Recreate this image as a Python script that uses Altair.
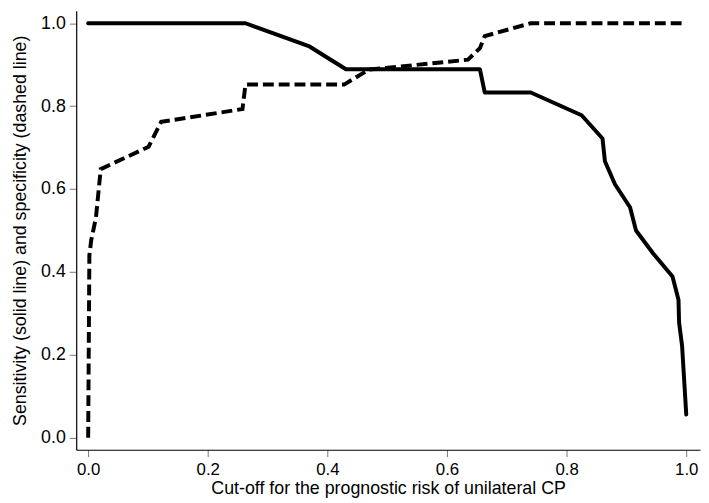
import altair as alt
import pandas as pd

# Sensitivity (solid line)
sens_x = [0.0, 0.263, 0.370, 0.431, 0.655, 0.663, 0.740, 0.825, 0.860, 0.864,
          0.881, 0.906, 0.916, 0.945, 0.977, 0.987, 0.988, 0.993, 1.0]
sens_y = [1.0, 1.0, 0.944, 0.889, 0.889, 0.833, 0.833, 0.778, 0.722, 0.667,
          0.611, 0.556, 0.5, 0.444, 0.389, 0.333, 0.278, 0.222, 0.056]

# Specificity (dashed line)
spec_x = [0.0, 0.002, 0.005, 0.013, 0.021, 0.101, 0.122, 0.258, 0.263, 0.428,
          0.469, 0.635, 0.655, 0.663, 0.740, 1.0]
spec_y = [0.0, 0.44, 0.476, 0.531, 0.648, 0.702, 0.762, 0.793, 0.852, 0.852,
          0.888, 0.912, 0.940, 0.969, 1.0, 1.0]

x_ticks = [0.0, 0.2, 0.4, 0.6, 0.8, 1.0]
y_ticks = [0.0, 0.2, 0.4, 0.6, 0.8, 1.0]

FONT = "Liberation Sans"
FS = 17

sens = pd.DataFrame({"x": sens_x, "y": sens_y, "i": range(len(sens_x))})
spec = pd.DataFrame({"x": spec_x, "y": spec_y, "i": range(len(spec_x))})

xs = alt.Scale(domain=[-0.02, 1.023], nice=False, zero=False)
ys = alt.Scale(domain=[-0.029, 1.03], nice=False, zero=False)

xaxis = alt.Axis(values=x_ticks, format=".1f", grid=False,
                 title="Cut-off for the prognostic risk of unilateral CP",
                 domainColor="#000000", tickColor="#777777", tickSize=7,
                 labelFontSize=FS, titleFontSize=FS + 1, labelFont=FONT, titleFont=FONT,
                 labelColor="#000000", titleColor="#000000", titleFontWeight="normal",
                 labelPadding=5, titlePadding=2)
yaxis = alt.Axis(values=y_ticks, format=".1f", grid=False,
                 title="Sensitivity (solid line) and specificity (dashed line)",
                 domainColor="#000000", tickColor="#777777", tickSize=7,
                 labelFontSize=FS + 1, titleFontSize=FS + 1, labelFont=FONT, titleFont=FONT,
                 labelColor="#000000", titleColor="#000000", titleFontWeight="normal",
                 labelPadding=4, titlePadding=11)

solid = alt.Chart(sens).mark_line(color="black", strokeWidth=4, strokeCap="round",
                                  strokeJoin="round").encode(
    x=alt.X("x:Q", scale=xs, axis=xaxis),
    y=alt.Y("y:Q", scale=ys, axis=yaxis),
    order="i:Q",
)
dashed = alt.Chart(spec).mark_line(color="black", strokeWidth=4, strokeDash=[11, 5],
                                   strokeCap="butt").encode(
    x=alt.X("x:Q", scale=xs),
    y=alt.Y("y:Q", scale=ys),
    order="i:Q",
)

chart = alt.layer(solid, dashed).properties(
    width=631, height=444,
    autosize=alt.AutoSizeParams(type="none"),
    padding={"left": 69, "top": 0, "right": 1, "bottom": 48},
).configure_view(stroke=None).configure_axis(domainWidth=1.2)

chart.save("out.html", embed_options={"renderer": "svg", "actions": False})
